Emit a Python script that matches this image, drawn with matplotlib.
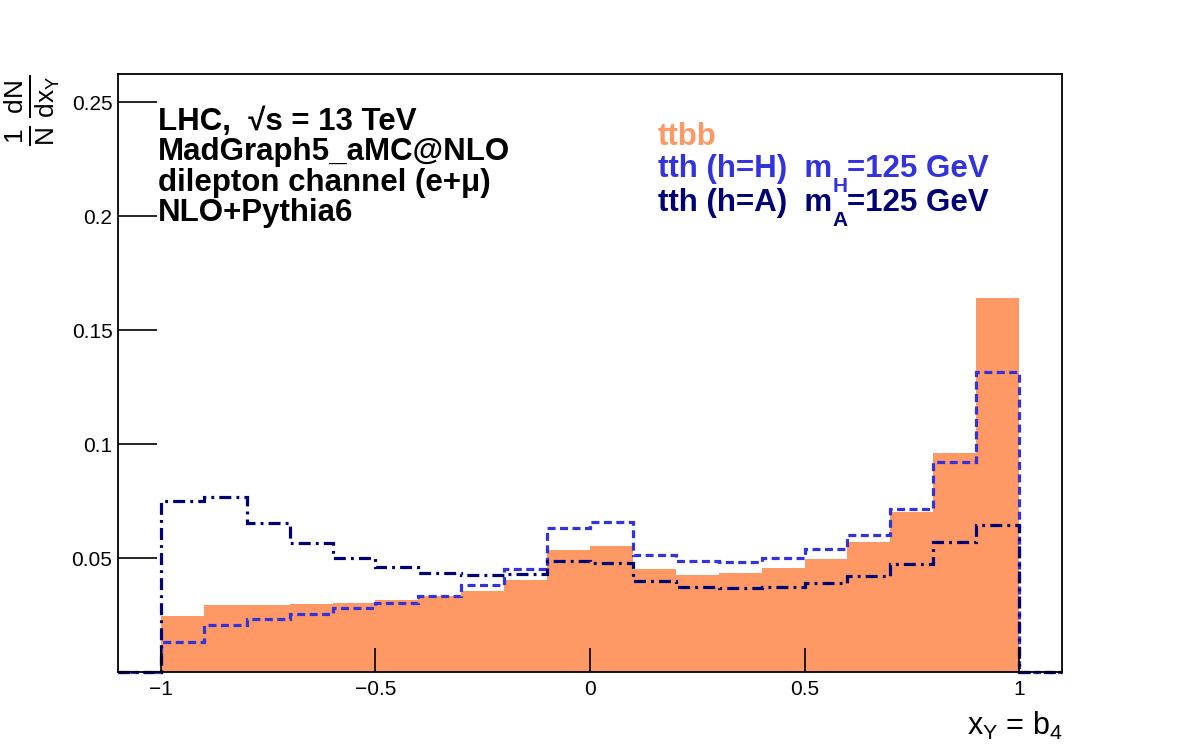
import matplotlib
matplotlib.use('Agg')
import matplotlib.pyplot as plt
import numpy as np

plt.rcParams['font.family'] = ['Liberation Sans', 'DejaVu Sans']
plt.rcParams['mathtext.fontset'] = 'custom'
plt.rcParams['mathtext.rm'] = 'Liberation Sans'
plt.rcParams['mathtext.it'] = 'Liberation Sans'
plt.rcParams['mathtext.bf'] = 'Liberation Sans:bold'

# bin edges, -1.1 .. 1.1 in steps of 0.1
edges = np.round(np.arange(-1.1, 1.1001, 0.1), 2)

ttbb = [0.0,
        0.0246, 0.0293, 0.0294, 0.0298, 0.0304, 0.0316, 0.0333, 0.0357, 0.0404, 0.0535,
        0.0553, 0.0450, 0.0427, 0.0433, 0.0458, 0.0497, 0.0570, 0.0703, 0.0959, 0.1640,
        0.0]
tth_H = [0.0,
         0.0130, 0.0205, 0.0234, 0.0254, 0.0279, 0.0303, 0.0335, 0.0380, 0.0453, 0.0632,
         0.0658, 0.0515, 0.0485, 0.0484, 0.0501, 0.0538, 0.0602, 0.0716, 0.0921, 0.1316,
         0.0]
tth_A = [0.0,
         0.0749, 0.0769, 0.0652, 0.0567, 0.0501, 0.0462, 0.0436, 0.0425, 0.0430, 0.0488,
         0.0477, 0.0398, 0.0374, 0.0370, 0.0373, 0.0389, 0.0421, 0.0472, 0.0570, 0.0645,
         0.0]

c_ttbb = '#fe9966'
c_H = '#3333dd'
c_A = '#000077'

W, H = 1182, 748
fig = plt.figure(figsize=(W/100, H/100), dpi=100)
ax = fig.add_axes([118/W, 1-672/H, (1062-118)/W, (672-74)/H])

ax.stairs(ttbb, edges, fill=True, color=c_ttbb, lw=0)
ax.stairs(tth_H, edges, color=c_H, lw=2.3, linestyle=(0, (2.5, 1.4)), clip_on=False)
ax.stairs(tth_A, edges, color=c_A, lw=2.3, linestyle=(0, (3.75, 1.6, 0.9, 1.6)), clip_on=False)

ax.set_xlim(-1.1, 1.1)
ax.set_ylim(0, 0.2623)
ax.set_xticks([-1, -0.5, 0, 0.5, 1])
ax.set_xticklabels(['\u22121', '\u22120.5', '0', '0.5', '1'])
ax.set_yticks([0.05, 0.1, 0.15, 0.2, 0.25])
ax.set_yticklabels(['0.05', '0.1', '0.15', '0.2', '0.25'])
ax.tick_params(axis='x', direction='in', length=17, width=1.2, labelsize=15, pad=6, top=False)
ax.tick_params(axis='y', direction='in', length=28, width=1.2, labelsize=15, pad=4, right=False)
for s in ax.spines.values():
    s.set_linewidth(1.3)

# axis titles
fig.text(32/W, 1-74/H, r'$\frac{1}{N}\,\frac{dN}{dx_{Y}}$', rotation=90,
         ha='center', va='top', fontsize=27)
fig.text(1062/W, 1-742/H, r'$x_{Y}$ = $b_{4}$', ha='right', va='bottom', fontsize=22)

# info block
info = ['LHC,  \u221as = 13 TeV', 'MadGraph5_aMC@NLO', 'dilepton channel (e+\u03bc)', 'NLO+Pythia6']
for i, t in enumerate(info):
    fig.text(158/W, 1-(130 + i*30.4)/H, t, fontsize=22.5, fontweight='bold',
             ha='left', va='baseline')

# legend text, ROOT style subscripts (lowered)
fig.text(658/W, 1-145/H, 'ttbb', color=c_ttbb, fontsize=22.5, fontweight='bold',
         ha='left', va='baseline')
fig.canvas.draw()
r = fig.canvas.get_renderer()
for (lead, sub, tail, col, yy) in [('tth (h=H)  m', 'H', '=125 GeV', c_H, 177),
                                   ('tth (h=A)  m', 'A', '=125 GeV', c_A, 211)]:
    t1 = fig.text(658/W, 1-yy/H, lead, color=col, fontsize=22.5, fontweight='bold',
                  ha='left', va='baseline')
    x1 = t1.get_window_extent(r).x1
    t2 = fig.text(x1/W, 1-(yy+15.5)/H, sub, color=col, fontsize=15, fontweight='bold',
                  ha='left', va='baseline')
    x2 = t2.get_window_extent(r).x1
    fig.text(x2/W, 1-yy/H, tail, color=col, fontsize=22.5, fontweight='bold',
             ha='left', va='baseline')

fig.savefig('out.png', dpi=100)
